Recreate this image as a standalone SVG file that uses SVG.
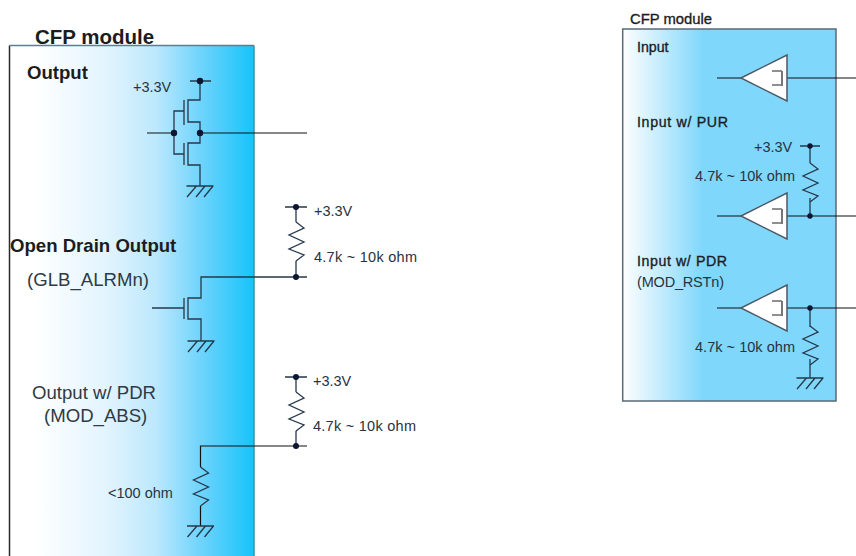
<svg xmlns="http://www.w3.org/2000/svg" width="856" height="556" viewBox="0 0 856 556">
<style>
text{font-family:"Liberation Sans",Arial,sans-serif;fill:#27333f;font-size:14.5px}
.b{font-weight:bold;font-size:18.6px;fill:#1c1c1c}
.l{font-size:18.6px;fill:#2e3a46}
.s{font-size:14.2px;fill:#1c1c24;stroke:#1c1c24;stroke-width:.35px}
.w{fill:none;stroke:#26384a;stroke-width:1.3}
.k{fill:none;stroke:#111;stroke-width:1.2}
.d{fill:#0d1530}
.t{fill:#fff;stroke:#4d5a66;stroke-width:1.5}
</style>
<defs>
<linearGradient id="gl" gradientUnits="userSpaceOnUse" x1="9" y1="0" x2="254" y2="0">
<stop offset="0.1" stop-color="#ffffff"/><stop offset="0.4" stop-color="#e2f4fe"/><stop offset="0.6" stop-color="#bce8fd"/><stop offset="0.78" stop-color="#70d4fc"/><stop offset="1" stop-color="#16c3fb"/>
</linearGradient>
<linearGradient id="gr" gradientUnits="userSpaceOnUse" x1="622" y1="0" x2="836" y2="0">
<stop offset="0" stop-color="#ffffff"/><stop offset="0.18" stop-color="#c4ecfd"/><stop offset="0.38" stop-color="#7fd7fc"/><stop offset="1" stop-color="#7fd7fc"/>
</linearGradient>
<g id="gnd"><path class="w" d="M-13.500 0H13.500M-3.500 0L-13 11M5 0L-4 11M13 0L4 11"/></g>
<path id="res" class="w" d="M0 0L8 6L-7 13L8 20L-7 27L8 33L0 39"/>
<path id="buf" class="t" d="M0 0L46-23V23Z"/>
<g id="sch"><path fill="none" stroke="#222" stroke-width="1.2" d="M31-7H41M31 7H41"/><path fill="none" stroke="#777" stroke-width="2" d="M41-7V8"/></g>
</defs>

<g id="module-left">
<rect x="9.500" y="45.500" width="244.500" height="530" fill="url(#gl)" stroke="none"/>
<path d="M9.500 556V45.500" fill="none" stroke="#2b2b2b" stroke-width="1.500"/>
<path d="M9.500 45.500H254" fill="none" stroke="#5b7f92" stroke-width="1.500"/>
<path d="M254 45.500V556" fill="none" stroke="#4a8ba3" stroke-width="1.500"/>
<text x="35" y="44" class="b" style="font-size:20.500px">CFP module</text>
</g>
<g id="module-right">
<rect x="622.700" y="29" width="213.300" height="372" fill="url(#gr)" stroke="#5a6a76" stroke-width="1.500"/>
<text x="630" y="24" class="s" style="font-size:14.800px">CFP module</text>
</g>

<g id="connectors">
<path class="w" d="M190 81H211M200 81V100H188V122H200V143H188V165H200V186"/>
<path class="w" d="M184 100V125M184 143V165M184 111H174V154H184"/>
<path class="k" d="M147 133H174M200 133H307"/>
<path class="w" d="M285 207H307M296 207V222M296 261V277M307 277H201V298H188V319H201V341M184 298V319M152 308H184"/>
<path class="w" d="M285 377H307M296 377V392M296 431V446"/>
<path class="k" d="M307 446H200.500V467M200.500 506V526"/>
<path class="k" d="M717 78H741M787 78H856"/>
<path class="k" d="M717 216H741M787 216H856M717 308H741M787 308H856"/>
<path class="w" d="M800 146H820M810 146V163M810 198V216"/>
<path class="w" d="M810 308V327M810 359V378"/>
</g>

<g id="output">
<text x="27" y="79" class="b">Output</text>
<text x="133" y="92">+3.3V</text>
<circle class="d" cx="200" cy="81" r="3.200"/><circle class="d" cx="174" cy="133" r="3.200"/><circle class="d" cx="200" cy="133" r="3.200"/>
<use href="#gnd" x="200" y="186"/>
</g>
<g id="open-drain">
<text x="10" y="252" class="b">Open Drain Output</text>
<text x="27" y="286" class="l">(GLB_ALRMn)</text>
<text x="314" y="216">+3.3V</text>
<text x="314" y="262" textLength="103">4.7k ~ 10k ohm</text>
<use href="#res" x="296" y="222"/>
<circle class="d" cx="296" cy="207" r="3"/><circle class="d" cx="296" cy="277" r="3"/>
<use href="#gnd" x="201" y="341"/>
</g>
<g id="output-pdr">
<text x="32" y="399" class="l">Output w/ PDR</text>
<text x="44" y="422" class="l">(MOD_ABS)</text>
<text x="313" y="386">+3.3V</text>
<text x="313" y="431" textLength="103">4.7k ~ 10k ohm</text>
<text x="108" y="498">&lt;100 ohm</text>
<use href="#res" x="296" y="392"/>
<use href="#res" x="200.500" y="467"/>
<circle class="d" cx="296" cy="377" r="3"/><circle class="d" cx="296" cy="446" r="3"/>
<use href="#gnd" x="200.500" y="526"/>
</g>
<g id="input">
<text x="637" y="52" class="s">Input</text>
<use href="#buf" x="741" y="78"/><use href="#sch" x="741" y="78"/>
</g>
<g id="input-pur">
<text x="637" y="127" class="s" textLength="91">Input w/ PUR</text>
<text x="754" y="152">+3.3V</text>
<text x="695" y="181" textLength="100">4.7k ~ 10k ohm</text>
<use href="#buf" x="741" y="216"/><use href="#sch" x="741" y="216"/>
<use href="#res" x="810" y="161" transform="translate(0 2)"/>
<circle class="d" cx="810" cy="146" r="2.700"/><circle class="d" cx="810" cy="216" r="2.700"/>
</g>
<g id="input-pdr">
<text x="637" y="266" class="s" textLength="90">Input w/ PDR</text>
<text x="637" y="287" textLength="87">(MOD_RSTn)</text>
<text x="695" y="352" textLength="100">4.7k ~ 10k ohm</text>
<use href="#buf" x="741" y="308"/><use href="#sch" x="741" y="308"/>
<use href="#res" x="810" y="323" transform="translate(0 3)"/>
<circle class="d" cx="810" cy="308" r="2.700"/>
<use href="#gnd" x="810" y="378"/>
</g>
</svg>
